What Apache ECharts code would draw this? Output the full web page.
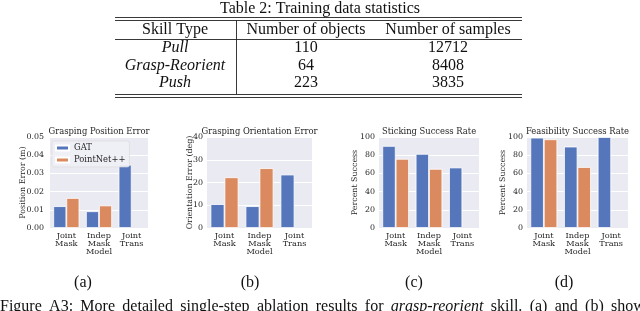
<!DOCTYPE html>
<html><head><meta charset="utf-8">
<script src="https://cdn.jsdelivr.net/npm/echarts@6/dist/echarts.min.js"></script>
<style>html,body{margin:0;padding:0;background:#fff;}#c{width:640px;height:311px;}</style>
</head><body><div id="c"></div>
<script>
// ---- data ----
const tableTitle = 'Table 2: Training data statistics';
const tableHeaders = ['Skill Type', 'Number of objects', 'Number of samples'];
const skillTypes = ['Pull', 'Grasp-Reorient', 'Push'];
const numObjects = [110, 64, 223];
const numSamples = [12712, 8408, 3835];

const categories = ['Joint\nMask', 'Indep\nMask\nModel', 'Joint\nTrans'];
const seriesNames = ['GAT', 'PointNet++'];
const chartTitles = ['Grasping Position Error', 'Grasping Orientation Error', 'Sticking Success Rate', 'Feasibility Success Rate'];
const yNames = ['Position Error (m)', 'Orientation Error (deg)', 'Percent Success', 'Percent Success'];
const posErrGAT = [0.0120, 0.0092, 0.0348];
const posErrPN = [0.0165, 0.0124, null];
const oriErrGAT = [10.5, 9.6, 23.5];
const oriErrPN = [22.3, 26.3, null];
const stickGAT = [90.2, 81.5, 66.5];
const stickPN = [76.0, 65.0, null];
const feasGAT = [99.3, 89.5, 100];
const feasPN = [97.5, 67.0, null];
const yMax = [0.05, 40, 100, 100];
const yInterval = [0.01, 10, 20, 20];
const subCaptions = ['(a)', '(b)', '(c)', '(d)'];
const captionWords = ['Figure', 'A3:', 'More', 'detailed', 'single-step', 'ablation', 'results', 'for', 'grasp-reorient', 'skill.', '(a)', 'and', '(b)', 'show'];
const italicWords = ['grasp-reorient'];

// ---- layout ----
const grids = [
  {left: 50, top: 137, width: 98, height: 91},
  {left: 207, top: 137, width: 105, height: 91},
  {left: 379, top: 137, width: 100, height: 91},
  {left: 527, top: 137, width: 101, height: 91}
];
const nameGaps = [23.5, 13.5, 20, 20];
const labelMargins = [6, 4, 4, 4];
const captionX = [83, 250, 414, 564];
const gatData = [posErrGAT, oriErrGAT, stickGAT, feasGAT];
const pnData = [posErrPN, oriErrPN, stickPN, feasPN];
const BLUE = '#5676bc', ORANGE = '#da8a5e';
const SERIF = 'DejaVu Serif';
const TNR = 'Liberation Serif';
const FS = 8.4, FSY = 7.9;

const chart = echarts.init(document.getElementById('c'));
const xAxis = [], yAxis = [], series = [], title = [];
grids.forEach((g, i) => {
  xAxis.push({type: 'category', gridIndex: i, data: categories,
    axisLine: {show: false}, axisTick: {show: false},
    axisLabel: {fontFamily: SERIF, fontSize: 8.2, color: '#262626', margin: 4, lineHeight: 8, interval: 0}});
  yAxis.push({type: 'value', gridIndex: i, min: 0, max: yMax[i], interval: yInterval[i],
    name: yNames[i], nameLocation: 'middle', nameGap: nameGaps[i], nameMoveOverlap: false,
    nameTextStyle: {fontFamily: SERIF, fontSize: FSY, color: '#262626'},
    axisLine: {show: false}, axisTick: {show: false},
    splitLine: {lineStyle: {color: '#ffffff', width: 1}},
    axisLabel: {fontFamily: SERIF, fontSize: FSY, color: '#262626', margin: labelMargins[i],
      formatter: v => i === 0 ? v.toFixed(2) : String(Math.round(v))}});
  title.push({text: chartTitles[i], left: g.left + g.width / 2, top: 127.5, textAlign: 'center',
    textStyle: {fontFamily: SERIF, fontSize: FS, fontWeight: 'normal', color: '#262626'}, padding: 0});
  series.push({type: 'bar', name: seriesNames[0], xAxisIndex: i, yAxisIndex: i, data: gatData[i],
    barGap: '0%', barCategoryGap: '20%', itemStyle: {color: BLUE, borderColor: '#fff', borderWidth: 0.8}});
  series.push({type: 'bar', name: seriesNames[1], xAxisIndex: i, yAxisIndex: i, data: pnData[i],
    barGap: '0%', barCategoryGap: '20%', itemStyle: {color: ORANGE, borderColor: '#fff', borderWidth: 0.8}});
});

const graphic = [];
grids.forEach(g => graphic.push({type: 'rect', z: -10, silent: true,
  shape: {x: g.left, y: g.top, width: g.width, height: g.height}, style: {fill: '#eaeaf2'}}));
// table
const tL = 115, tR = 522, vX = 236.5;
[17.5, 20.5, 39.5, 94.5, 97.5].forEach(y => graphic.push({type: 'line', silent: true,
  shape: {x1: tL, y1: y, x2: tR, y2: y}, style: {stroke: '#222', lineWidth: 0.9}}));
graphic.push({type: 'line', silent: true, shape: {x1: vX, y1: 20.5, x2: vX, y2: 94.5}, style: {stroke: '#222', lineWidth: 0.9}});
const txt = (t, x, y, extra) => graphic.push({type: 'text', silent: true, x: x, y: y,
  style: Object.assign({text: t, font: '16px "' + TNR + '"', fill: '#111', align: 'center', verticalAlign: 'middle'}, extra || {})});
txt(tableTitle, 320, 8.5);
const colX = [175, 306, 448];
tableHeaders.forEach((h, j) => txt(h, colX[j], 30));
const rowY = [48, 66, 83];
skillTypes.forEach((s, r) => {
  txt(s, colX[0], rowY[r], {font: 'italic 16px "' + TNR + '"'});
  txt(String(numObjects[r]), colX[1], rowY[r]);
  txt(String(numSamples[r]), colX[2], rowY[r]);
});
subCaptions.forEach((c, i) => txt(c, captionX[i], 283));
const capText = captionWords.map(w => (italicWords.indexOf(w) >= 0 ? '{i|' : '{n|') + w + '}').join('{s| }');
graphic.push({type: 'text', silent: true, x: 0, y: 307, style: {
  text: capText, verticalAlign: 'middle', align: 'left',
  rich: {n: {fontFamily: TNR, fontSize: 16, fill: '#111'},
         i: {fontFamily: TNR, fontSize: 16, fontStyle: 'italic', fill: '#111'},
         s: {fontFamily: TNR, fontSize: 16, width: 7.3}}}});

chart.setOption({
  animation: false,
  grid: grids,
  title: title,
  xAxis: xAxis,
  yAxis: yAxis,
  series: series,
  legend: {data: seriesNames, left: 52, top: 141, orient: 'vertical', itemWidth: 13, itemHeight: 5, itemGap: 4,
    padding: [3, 4, 3, 3], backgroundColor: 'rgba(240,240,246,0.9)', borderColor: '#d8d8d8', borderWidth: 0.6, borderRadius: 2,
    icon: 'rect', textStyle: {fontFamily: SERIF, fontSize: FS, color: '#262626', padding: [0, 0, 0, 0]}},
  graphic: graphic
});
</script></body></html>
